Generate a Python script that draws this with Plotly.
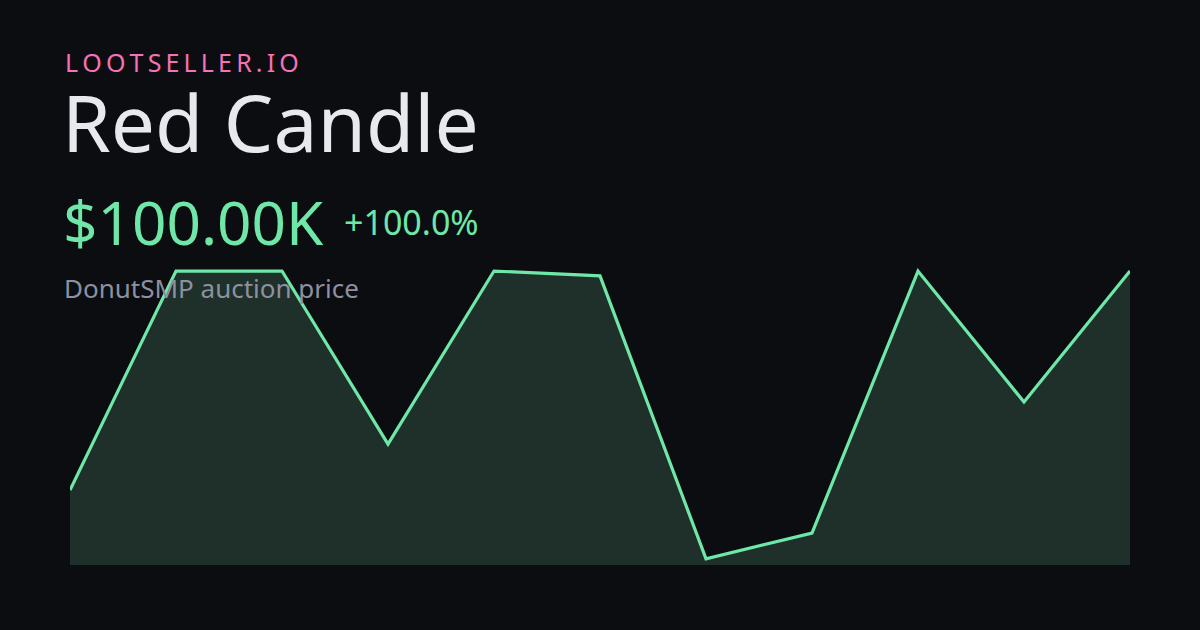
import plotly.graph_objects as go

# Data (prices in K)
points = list(range(11))
prices = [50.0, 100.0, 100.0, 60.5, 100.0, 98.9, 34.3, 40.2, 100.0, 70.1, 100.0]

brand = "LOOTSELLER.IO"
title = "Red Candle"
price_label = "$100.00K"
change_label = "+100.0%"
subtitle = "DonutSMP auction price"

BG = "#0c0d10"
LINE = "#6ee7a8"
FILL = "#1e3029"
FONT = "Noto Sans"

L, R, T, B = 70, 70, 250, 65
W, H = 1200, 630
ph = H - T - B
pw = W - L - R

def px(x):
    return (x - L) / pw

def py(y):
    return (H - B - y) / ph

fig = go.Figure()
fig.add_trace(go.Scatter(
    x=points, y=prices, mode="lines",
    line=dict(color=LINE, width=3.2),
    fill="tozeroy", fillcolor=FILL,
    hoverinfo="skip",
))

spaced = "\u2009".join(brand)
ann = [
    dict(text=spaced, x=px(63), y=py(62.5), font=dict(size=25, color="#f472b6")),
    dict(text=title, x=px(60), y=py(122), font=dict(size=78.5, color="#e8e9ee")),
    dict(text=price_label, x=px(61), y=py(222), font=dict(size=60.3, color=LINE)),
    dict(text=change_label, x=px(342), y=py(222), font=dict(size=34, color=LINE)),
    dict(text=subtitle, x=px(62), y=py(288), font=dict(size=26, color="#8d90a0")),
]
for a in ann:
    a.update(xref="paper", yref="paper", xanchor="left", yanchor="middle",
             showarrow=False)
    a["font"]["family"] = FONT

fig.update_layout(
    width=W, height=H,
    margin=dict(l=L, r=R, t=T, b=B),
    paper_bgcolor=BG, plot_bgcolor=BG,
    showlegend=False,
    annotations=ann,
    xaxis=dict(range=[0, 10], visible=False, fixedrange=True),
    yaxis=dict(range=[32.9, 104.8], visible=False, fixedrange=True),
)
fig.write_html(
    "out.html",
    config={"displayModeBar": False},
    post_script="document.body.style.margin='0';document.body.style.background='#0c0d10';",
)
